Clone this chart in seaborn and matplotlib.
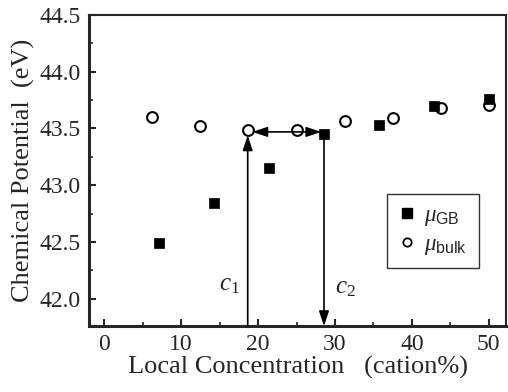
import matplotlib
matplotlib.use("Agg")
import matplotlib.pyplot as plt
import seaborn as sns
import pandas as pd
from matplotlib.ticker import MultipleLocator
from matplotlib.lines import Line2D

# ---- data ----
gb_conc = [7.14, 14.29, 21.43, 28.57, 35.71, 42.86, 50.0]
gb_mu = [42.49, 42.84, 43.15, 43.45, 43.53, 43.70, 43.76]
bulk_conc = [6.25, 12.5, 18.75, 25.0, 31.25, 37.5, 43.75, 50.0]
bulk_mu = [43.60, 43.52, 43.49, 43.49, 43.57, 43.59, 43.68, 43.71]
x_ticks = [0, 10, 20, 30, 40, 50]
y_ticks = [42.0, 42.5, 43.0, 43.5, 44.0, 44.5]
c1 = bulk_conc[2]
c2 = gb_conc[3]

sns.set_style("ticks")
SERIF = ["Liberation Serif", "DejaVu Serif"]
plt.rcParams["font.family"] = SERIF
plt.rcParams["mathtext.fontset"] = "custom"
plt.rcParams["mathtext.rm"] = "Liberation Serif"
plt.rcParams["mathtext.it"] = "Liberation Serif:italic"
plt.rcParams["mathtext.sf"] = "Liberation Sans"

fig = plt.figure(figsize=(5.08, 3.92), dpi=100)
ax = fig.add_axes([0.175, 0.168, 0.822, 0.794])

df_gb = pd.DataFrame({"x": gb_conc, "y": gb_mu})
df_bulk = pd.DataFrame({"x": bulk_conc, "y": bulk_mu})

sns.scatterplot(data=df_bulk, x="x", y="y", ax=ax, marker="o", s=60,
                facecolor="white", edgecolor="black", linewidth=1.5, zorder=3)
sns.scatterplot(data=df_gb, x="x", y="y", ax=ax, marker="s", s=62,
                color="black", edgecolor="black", linewidth=0.5, zorder=4)

ax.set_xlim(-2, 52.3)
ax.set_ylim(41.76, 44.5)
ax.set_xticks(x_ticks)
ax.set_yticks(y_ticks)
ax.xaxis.set_minor_locator(MultipleLocator(5))
ax.yaxis.set_minor_locator(MultipleLocator(0.25))
ax.set_xticklabels([str(t) for t in x_ticks], fontfamily=SERIF, fontsize=17)
ax.set_yticklabels([f"{t:.1f}" for t in y_ticks], fontfamily=SERIF, fontsize=17)
ax.tick_params(axis="both", which="major", direction="in", length=5, width=1.5,
               pad=6, top=False, right=False)
ax.tick_params(axis="both", which="minor", direction="in", length=3, width=1.2,
               top=False, right=False)
for side in ["left", "bottom"]:
    ax.spines[side].set_linewidth(2.2)
for side in ["top", "right"]:
    ax.spines[side].set_linewidth(1.5)

ax.set_xlabel("Local Concentration   (cation%)", fontsize=19, labelpad=0,
              fontfamily=SERIF)
ax.set_ylabel("Chemical Potential  (eV)", fontsize=19, labelpad=3,
              fontfamily=SERIF)

# arrows
ybot = 41.76
ax.annotate("", xy=(c1 - 0.1, 43.44), xytext=(c1 - 0.1, ybot),
            arrowprops=dict(arrowstyle="-|>,head_length=0.9,head_width=0.3",
                            color="black", lw=1.2, shrinkA=0, shrinkB=0))
ax.annotate("", xy=(c2, ybot), xytext=(c2, 43.43),
            arrowprops=dict(arrowstyle="-|>,head_length=0.9,head_width=0.3",
                            color="black", lw=1.2, shrinkA=0, shrinkB=0))
ax.annotate("", xy=(c1 + 0.5, 43.47), xytext=(c2 - 0.35, 43.47),
            arrowprops=dict(arrowstyle="<|-|>,head_length=0.9,head_width=0.3",
                            color="black", lw=1.2, shrinkA=0, shrinkB=0))
ax.text(16.3, 42.12, r"$c_{\rm 1}$", fontsize=18, ha="center", va="center")
ax.text(31.3, 42.10, r"$c_{\rm 2}$", fontsize=18, ha="center", va="center")

handles = [
    Line2D([], [], marker="s", linestyle="none", markersize=7,
           markerfacecolor="black", markeredgecolor="black"),
    Line2D([], [], marker="o", linestyle="none", markersize=6,
           markerfacecolor="white", markeredgecolor="black", markeredgewidth=1.3),
]
labels = [r"$\mathit{\mu}_{\mathsf{GB}}$", r"$\mathit{\mu}_{\mathsf{bulk}}$"]
leg = ax.legend(handles, labels, loc="lower left", bbox_to_anchor=(0.715, 0.186),
                frameon=True, fancybox=False, fontsize=16.5, handlelength=0.7,
                handletextpad=0.4, borderpad=0.5, labelspacing=0.25,
                borderaxespad=0)
leg.get_frame().set_edgecolor("black")
leg.get_frame().set_linewidth(1.0)

fig.savefig("out.png", dpi=100)
